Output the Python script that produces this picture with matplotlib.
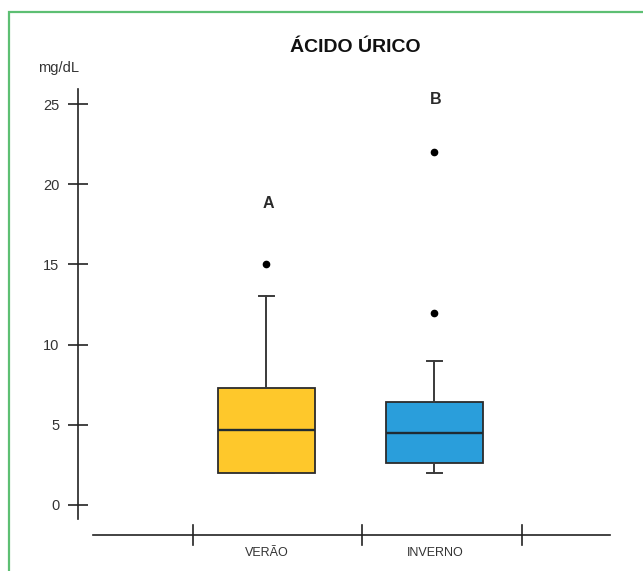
import matplotlib
matplotlib.use('Agg')
import matplotlib.pyplot as plt
from matplotlib.patches import Rectangle
from matplotlib import rcParams

rcParams['font.family'] = ['Liberation Sans', 'DejaVu Sans']

# Data (mg/dL)
categories = ['VERÃO', 'INVERNO']
whisker_low = [2.0, 2.0]
q1 = [2.0, 2.6]
median = [4.7, 4.5]
q3 = [7.3, 6.4]
whisker_high = [13.0, 9.0]
outliers = [[15.0], [12.0, 22.0]]
group_letters = ['A', 'B']
letter_y = [18.8, 25.3]
yticks = [0, 5, 10, 15, 20, 25]
colors = ['#FEC82B', '#2A9EDB']

W, H = 643, 571
fig = plt.figure(figsize=(W / 100, H / 100), dpi=100)

# green frame
fig.add_artist(Rectangle((9 / W, -0.05), 1.2, 1 - 12 / H + 0.05, transform=fig.transFigure,
                         fill=False, edgecolor='#5DBF73', linewidth=1.6))

# axes in pixel-like x units
px_per_unit = 16.04
y0_pix = 505
top_pix, bot_pix = 80, 545
left_pix, right_pix = 40, 640
ax = fig.add_axes([left_pix / W, 1 - bot_pix / H, (right_pix - left_pix) / W, (bot_pix - top_pix) / H])
ax.set_xlim(left_pix, right_pix)
ax.set_ylim((y0_pix - bot_pix) / px_per_unit, (y0_pix - top_pix) / px_per_unit)

positions = [266, 434]
stats = []
for i, c in enumerate(categories):
    stats.append(dict(label=c, whislo=whisker_low[i], q1=q1[i], med=median[i], q3=q3[i],
                      whishi=whisker_high[i], fliers=outliers[i]))
bp = ax.bxp(stats, positions=positions, widths=97, patch_artist=True, showfliers=True,
            boxprops=dict(edgecolor='#2b2b2b', linewidth=1.3),
            medianprops=dict(color='#1f2b33', linewidth=1.7),
            whiskerprops=dict(color='#3a3a3a', linewidth=1.4),
            capprops=dict(color='#3a3a3a', linewidth=1.4),
            capwidths=15,
            flierprops=dict(marker='o', markerfacecolor='black', markeredgecolor='black',
                            markersize=4.5))
for patch, col in zip(bp['boxes'], colors):
    patch.set_facecolor(col)

for x, t, ly in zip(positions, group_letters, letter_y):
    ax.text(x + 2, ly, t, ha='center', va='center', fontsize=11.5, fontweight='bold', color='#2a2a2a')

# y axis
for s in ['top', 'right', 'bottom']:
    ax.spines[s].set_visible(False)
ax.spines['left'].set_position(('data', 78))
ax.spines['left'].set_bounds((y0_pix - 519) / px_per_unit, (y0_pix - 89) / px_per_unit)
ax.spines['left'].set_color('#222222')
ax.spines['left'].set_linewidth(1.2)
ax.set_yticks(yticks)
ax.set_yticklabels([str(v) for v in yticks])
ax.tick_params(axis='y', direction='inout', length=15, width=1.2, color='#222222',
               pad=6, labelsize=10.5, labelcolor='#333333')
ax.set_xticks([])

# x axis line with separators
xa_y = (y0_pix - 535) / px_per_unit
ax.plot([93, 610], [xa_y, xa_y], color='#222222', linewidth=1.2, clip_on=False)
for sx in [193, 362, 522]:
    ax.plot([sx, sx], [xa_y + 10 / px_per_unit, xa_y - 10 / px_per_unit], color='#222222',
            linewidth=1.2, clip_on=False)
for x, c in zip(positions, categories):
    fig.text(x / W + 1 / W, 1 - 553 / H, c, ha='center', va='center', fontsize=9, color='#333333')

fig.text(355 / W, 1 - 47 / H, 'ÁCIDO ÚRICO', ha='center', va='center', fontsize=14,
         fontweight='bold', color='#111111')
fig.text(38 / W, 1 - 68 / H, 'mg/dL', ha='left', va='center', fontsize=10.5, color='#333333')

fig.savefig('out.png', dpi=100)
